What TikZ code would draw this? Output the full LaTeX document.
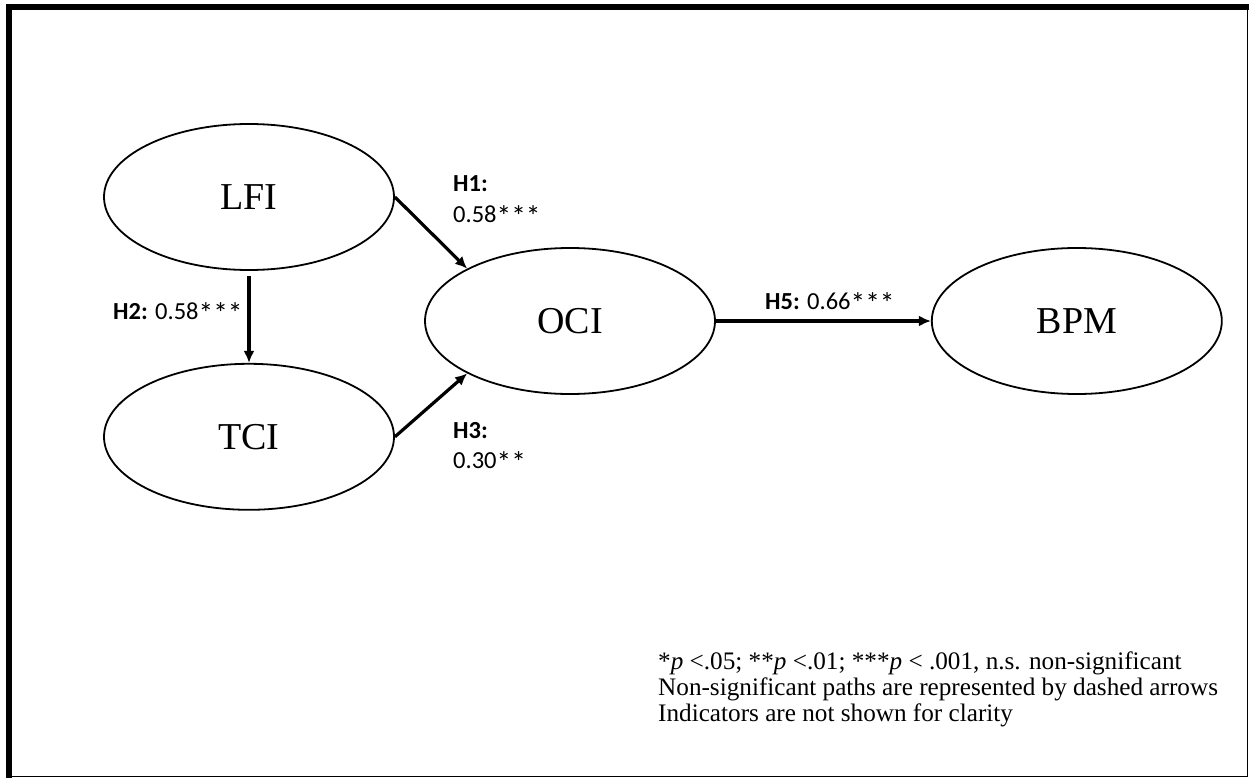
\documentclass[tikz,border=0pt]{standalone}
\usepackage{fontspec}
\usepackage{graphicx}
\setmainfont{Liberation Serif}
\newfontfamily\coeffont{Carlito}
\usetikzlibrary{positioning, arrows.meta, shapes.geometric}
\newcommand\sigstar{\raisebox{-4.5pt}{\scalebox{1.2}{*}}}
\tikzset{
    construct/.style={draw, ellipse, line width=1.8pt, minimum width=290pt, minimum height=146pt, inner sep=0pt, font=\fontsize{38}{40}\selectfont},
    effect/.style={-{Latex[length=12pt, width=11pt]}, line width=3.2pt},
    coef/.style={anchor=base west, align=left, inner sep=0pt, font=\coeffont\fontsize{24.5}{30}\selectfont},
    note/.style={anchor=base west, align=left, inner sep=0pt, font=\fontsize{25.2}{26}\selectfont}
}

\begin{document}
\begin{tikzpicture}[x=1pt, y=-1pt, node distance=92pt]
  \useasboundingbox (0,0) rectangle (1249,778);
  % frame
  \draw[line width=1.8pt] (9,7) rectangle (1247.5,776.5);
  \draw[line width=6pt] (9,778) -- (9,7) -- (1249,7);
  % constructs
  \node(LFI)[construct] at (249,197){LFI};
  \node(TCI)[construct, below=of LFI]{TCI};
  \node(OCI)[construct] at (570,321){OCI};
  \node(BPM)[construct, right=215pt of OCI]{BPM};
  % paths
  \draw[effect](LFI.east)--(OCI.153);
  \draw[effect, shorten <=5pt](LFI)--(TCI);
  \draw[effect](TCI.east)--(OCI.207);
  \draw[effect](OCI.east)--(BPM.west);
  % coefficients (base = last line)
  \node(cHone)[coef] at (453,222){\textbf{H1:}\\0.58\sigstar\sigstar\sigstar};
  \node(cHtwo)[coef] at (113,319){\textbf{H2:} 0.58\sigstar\sigstar\sigstar};
  \node(cHthree)[coef] at (453,468){\textbf{H3:}\\0.30\sigstar\sigstar};
  \node(cHfive)[coef] at (765,309){\textbf{H5:} 0.66\sigstar\sigstar\sigstar};
  % legend
  \node(legend)[note] at (658,721){*\textit{p} <.05; **\textit{p} <.01; ***\textit{p} < .001, n.s. non-significant\\
    Non-significant paths are represented by dashed arrows\\
    Indicators are not shown for clarity};
\end{tikzpicture}
\end{document}
